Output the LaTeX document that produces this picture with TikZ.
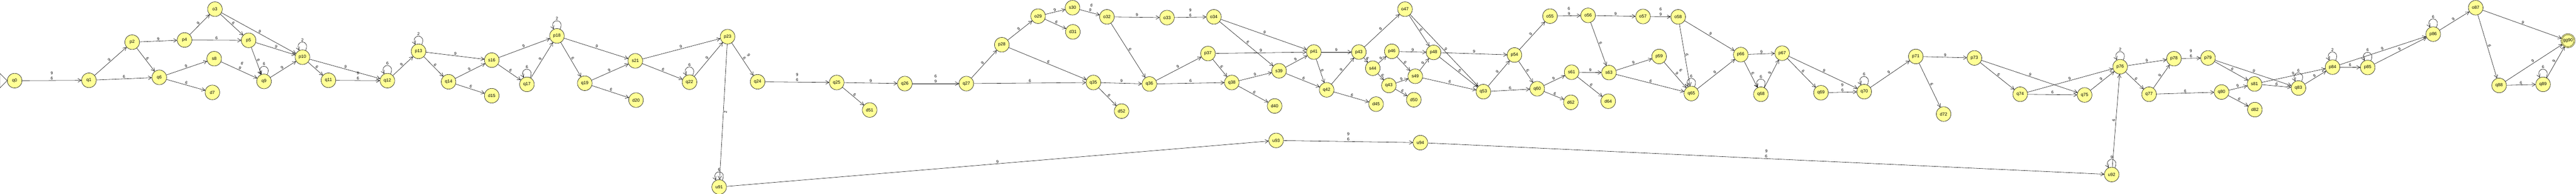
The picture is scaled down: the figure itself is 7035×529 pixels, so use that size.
\documentclass[tikz,border=0pt]{standalone}
\usepackage{fontspec}
\setmainfont{Liberation Sans}
\usetikzlibrary{arrows.meta}
\definecolor{statefill}{RGB}{255,255,150}

\begin{document}
\begin{tikzpicture}[x=1pt,y=-1pt,line width=0.8pt,
	state/.style={circle,draw,fill=statefill,minimum size=40pt,inner sep=0pt,font=\fontsize{12}{14}\selectfont},
	trans/.style={-{Straight Barb[length=9pt,width=10pt]}},
	lbl/.style={midway,above,sloped,inner sep=1.5pt,align=center,font=\fontsize{11}{14}\selectfont},
	looplbl/.style={above,inner sep=1.5pt,font=\fontsize{11}{14}\selectfont}]
	\useasboundingbox (0,0) rectangle (7035,529);

	% states
	\foreach \name/\x/\y in
		{q0/40/220, q1/243/219, p2/361/115, p4/504/109, o3/587/25, s8/585/160, q6/435/211, d7/580/252,
		 p5/679/110, q9/721/222, p10/826/156, q11/897/219, q12/1058/220, p13/1143/140,
		 q14/1225/223, s16/1343/164, d15/1343/261, q17/1439/230, p18/1521/98, q19/1597/227, s21/1735/166, d20/1737/273,
		 q22/1883/224, p23/1987/100, q24/2069/223, q25/2285/225, u91/1964/510, d51/2375/300,
		 q26/2471/228, q27/2639/228, p28/2736/122, o29/2835/44, s30/2929/21, d31/2930/87,
		 o32/3023/46, o33/3187/48, o34/3315/46, p37/3299/146, q35/2986/225, q36/3139/229, q38/3364/225,
		 s39/3493/193, d40/3481/289, d52/3063/303, u93/3485/383,
		 p41/3588/142, q42/3623/245, p43/3711/142, s44/3749/186, d45/3758/284, p46/3801/140, q43/3793/233,
		 o47/3837/25, p48/3915/143, s49/3865/208, d50/3861/272, q53/4051/250, u94/3879/389,
		 p54/4136/150, o55/4233/44, o56/4337/42, o57/4487/45, o58/4583/46, q60/4198/242, s61/4292/197,
		 s63/4394/198, p59/4531/154, d62/4290/279, d64/4392/276, q65/4619/255,
		 p66/4754/149, p67/4867/145, q68/4809/257, q69/4973/253, q70/5091/250, p71/5232/154, d72/5308/311,
		 p73/5392/158, q74/5517/257, q75/5693/259, p76/5790/182, q77/5869/257, u92/5767/476,
		 p78/5937/160, p79/6030/158, q80/6067/251, s81/6157/229, d82/6158/299, q83/6277/240,
		 p84/6370/183, p85/6466/184, p86/6645/93, o87/6761/21, q88/6825/233, q89/6945/230}
		\node[state] (\name) at (\x,\y) {\name};
	\node[state,minimum size=36pt,double=statefill,double distance=2pt] (gg90) at (7013,111) {gg90};

	% start marker
	\draw (q0.west) -- ++(-20,-20) -- ++(0,40) -- cycle;

	% transitions
	\foreach \a/\b/\l in
		{q0/q1/{9\\6}, q1/p2/9, q1/q6/6, p2/p4/9, p2/q6/6, p4/o3/9, p4/p5/6, q6/s8/9, q6/d7/6,
		 o3/p5/6, o3/p10/9, p5/p10/9, p5/q9/6, s8/q9/{6\\9}, q9/p10/9, p10/q11/6, p10/q12/9,
		 q11/q12/{9\\6}, q12/p13/9, p13/s16/9, p13/q14/6, q14/s16/9, q14/d15/6, s16/p18/9, s16/q17/6,
		 q17/p18/9, p18/q19/6, p18/s21/9, q19/s21/9, q19/d20/6, s21/p23/9, s21/q22/6, q22/p23/9,
		 p23/q24/{9\\6}, u91/u93/9, q24/q25/{9\\6}, q25/q26/9, q25/d51/6, q26/q27/{6\\9},
		 q27/p28/9, q27/q35/6, p28/o29/9, p28/q35/6, o29/s30/9, o29/d31/6, s30/o32/{6\\9},
		 o32/o33/9, o32/q36/6, o33/o34/{9\\6}, o34/p41/9, o34/s39/6, q35/q36/9, q35/d52/6,
		 q36/p37/9, q36/q38/6, p37/p41/9, p37/q38/6, q38/s39/9, q38/d40/6, s39/p41/9, s39/q42/6,
		 u93/u94/{9\\6}, p41/p43/9, p41/q42/6, q42/p43/9, q42/d45/6, p43/o47/9, p43/s44/6,
		 s44/p46/9, s44/q43/6, p46/p48/9, p46/s49/6, q43/s49/9, q43/d50/6, s49/p48/9, s49/q53/6,
		 o47/p48/6, o47/q53/9, p48/p54/9, p48/q53/6, q53/p54/9, q53/q60/6, u94/u92/{9\\6},
		 p54/o55/9, p54/q60/6, o55/o56/{6\\9}, o56/o57/9, o56/s63/6, o57/o58/{6\\9}, o58/p66/9,
		 o58/q65/6, q60/s61/9, q60/d62/6, s61/s63/9, s61/d64/6, s63/p59/9, s63/q65/6,
		 p59/q65/{6\\9}, q65/p66/9, p66/p67/9, p66/q68/6, q68/p67/9, p67/q69/6, p67/q70/9,
		 q69/q70/{9\\6}, q70/p71/9, p71/p73/9, p71/d72/6, p73/q74/6, p73/q75/9, q74/p76/9,
		 q74/q75/6, q75/p76/9, p76/p78/9, p76/q77/6, q77/p78/9, q77/q80/6, u92/p76/6,
		 p78/p79/{9\\6}, p79/s81/6, p79/q83/9, q80/s81/9, q80/d82/6, s81/p84/9, s81/q83/6,
		 q83/p84/9, p84/p85/6, p84/p86/9, p85/p86/9, p86/o87/9, o87/gg90/9, o87/q88/6,
		 q88/gg90/9, q88/q89/6, q89/gg90/9}
		\draw[trans] (\a) -- node[lbl]{\l} (\b);
	\draw[trans] (p23) -- node[lbl,below]{2} (u91);

	% self loops
	\foreach \a/\l in {q9/6, p10/2, q12/6, p13/2, q17/6, p18/2, q22/6, u91/6, q65/6, q68/6,
		q70/6, p76/2, u92/9, q83/6, p84/2, p85/6, p86/6, q89/6}
		\draw[trans] (\a) to[out=65,in=115,looseness=5] node[looplbl]{\l} (\a);
\end{tikzpicture}
\end{document}
